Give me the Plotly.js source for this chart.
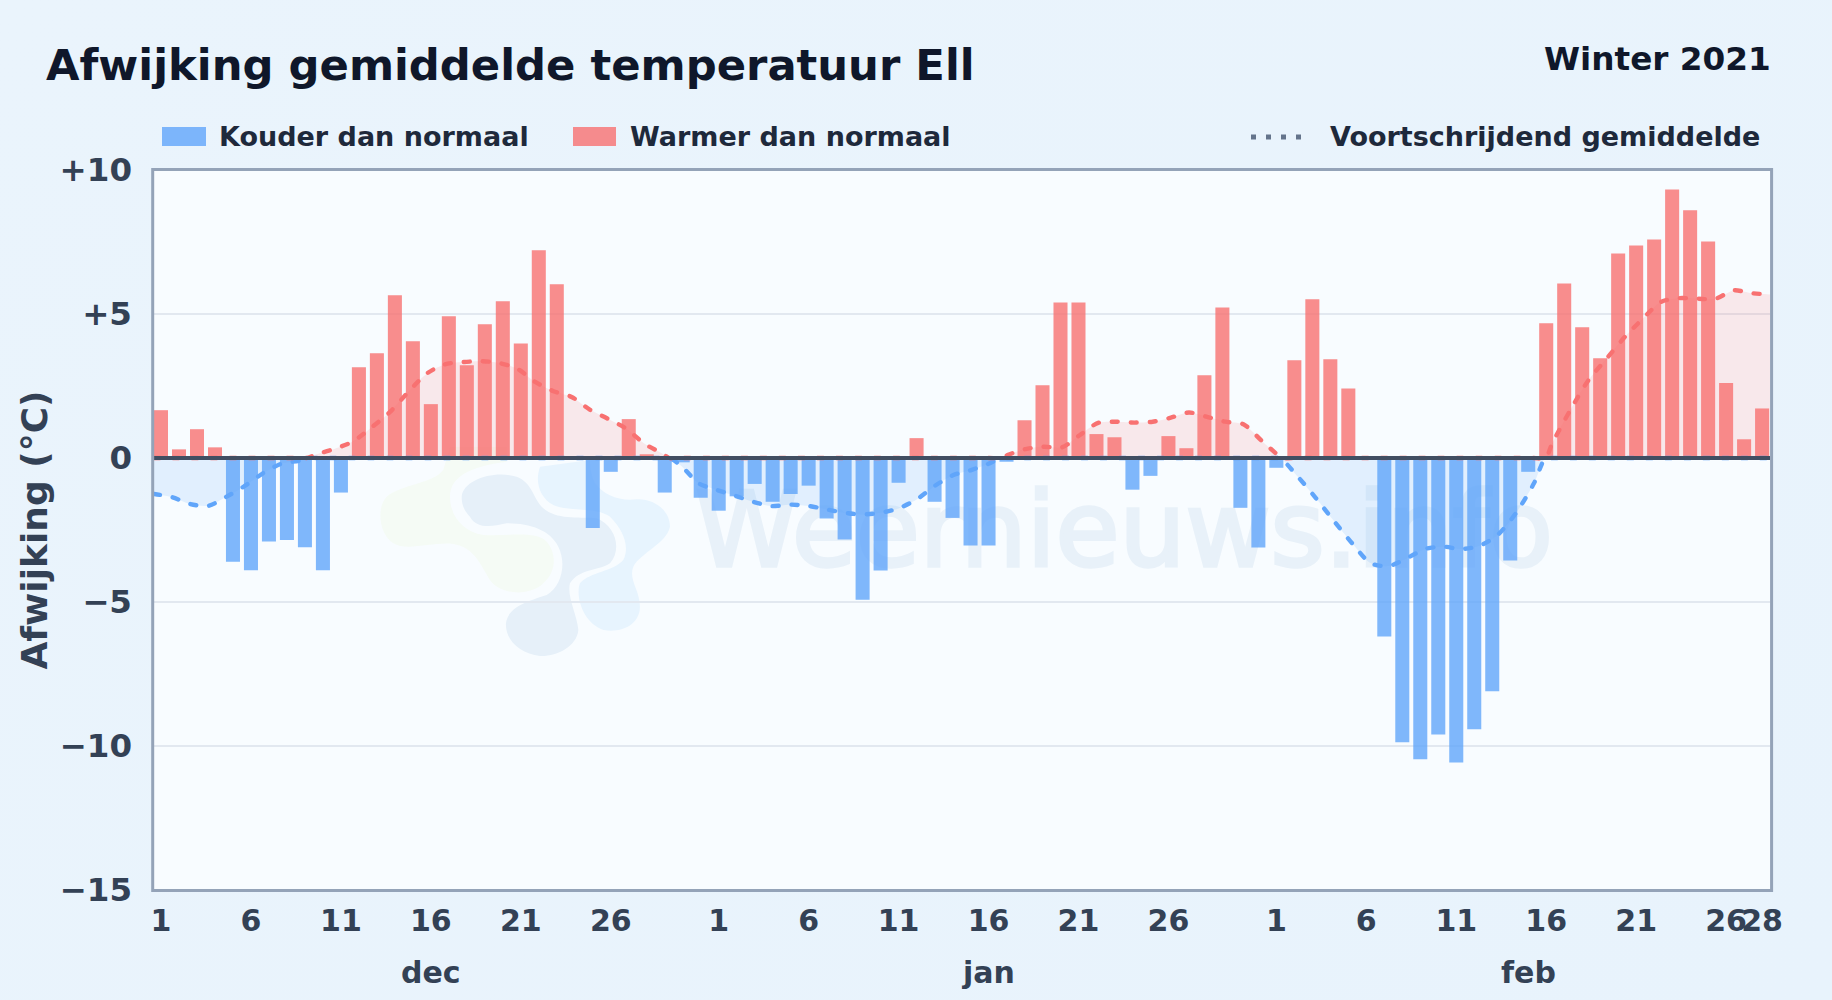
<!DOCTYPE html>
<html>
<head>
<meta charset="utf-8">
<script src="https://cdn.plot.ly/plotly-3.0.1.min.js"></script>
<style>
html,body{margin:0;padding:0;width:1832px;height:1000px;overflow:hidden;background:linear-gradient(135deg,#eaf4fc 0%,#e8f3fc 100%);}
#chart{width:1832px;height:1000px;}
</style>
</head>
<body>
<div id="chart"></div>
<script>
const dec = [1.66,0.3,1.0,0.37,-3.6,-3.9,-2.9,-2.85,-3.1,-3.9,-1.2,3.15,3.64,5.65,4.05,1.87,4.92,3.22,4.64,5.44,3.98,7.21,6.03,0,-2.43,-0.48,1.35,0.13,-1.2,-0.15,-1.38];
const jan = [-1.83,-1.33,-0.9,-1.52,-1.25,-0.96,-2.1,-2.83,-4.92,-3.91,-0.86,0.69,-1.52,-2.08,-3.04,-3.04,-0.13,1.31,2.53,5.4,5.4,0.83,0.72,-1.1,-0.62,0.76,0.34,2.87,5.23,-1.73,-3.11];
const feb = [-0.34,3.39,5.51,3.43,2.41,0,-6.2,-9.87,-10.46,-9.6,-10.57,-9.42,-8.1,-3.56,-0.48,4.68,6.06,4.54,3.46,7.1,7.38,7.59,9.32,8.6,7.52,2.6,0.65,1.72];
const smooth = [-1.25,-1.36,-1.6,-1.66,-1.34,-0.97,-0.53,-0.2,-0.09,0.14,0.33,0.59,1.07,1.6,2.29,2.92,3.25,3.33,3.36,3.3,3.1,2.64,2.32,2.12,1.68,1.36,1.02,0.5,0.15,-0.25,-0.88,-1.11,-1.31,-1.52,-1.67,-1.62,-1.66,-1.78,-1.9,-1.96,-1.9,-1.75,-1.44,-0.97,-0.6,-0.42,-0.19,0.1,0.31,0.39,0.37,0.8,1.22,1.26,1.23,1.26,1.4,1.58,1.43,1.26,1.17,0.6,0.04,-0.65,-1.4,-2.2,-2.97,-3.65,-3.75,-3.48,-3.16,-3.08,-3.16,-3.05,-2.67,-1.92,-0.88,0.5,1.66,2.7,3.45,4.2,4.84,5.42,5.55,5.53,5.53,5.82,5.72,5.68];
const dayLabels = ["1","6","11","16","21","26","1","6","11","16","21","26","1","6","11","16","21","26","28"];
const dayTicks = [0,5,10,15,20,25,31,36,41,46,51,56,62,67,72,77,82,87,89];
const monthNames = ["dec","jan","feb"];
const monthAt = [15,46,76];
const yTicks = [10,5,0,-5,-10,-15];
const yLabels = ["+10","+5","0","\u22125","\u221210","\u221215"];

const W=1832,H=1000,L=154,R=1770,T=170,B=890;
const BLUE='#60a5fa',RED='#f87171',FONT='"DejaVu Sans",sans-serif',MARK='#e8f1f9';
const values=[...dec,...jan,...feb];
const idx=values.map((_,i)=>i);
const fx=x=>(x-L)/(R-L), fy=y=>(B-y)/(B-T);

// splits the running mean at zero so each side has its own colour and fill
function side(sign){
  const xs=[],ys=[];
  smooth.forEach((v,i)=>{
    if(i>0 && smooth[i-1]*v<0){xs.push(i-1+smooth[i-1]/(smooth[i-1]-v));ys.push(0);}
    xs.push(i);ys.push(sign*v>0?v:0);
  });
  return {xs,ys};
}
const pos=side(1),neg=side(-1);

const px=(x,y)=>fx(350+x/3).toFixed(4)+','+fy(440+y/3).toFixed(4);
function blob(d,fill){
  const path=d.replace(/(-?\d+),(-?\d+)/g,(m,a,b)=>px(+a,+b));
  return {type:'path',xref:'paper',yref:'paper',layer:'below',path,fillcolor:fill,line:{width:0}};
}
const shapes=[
  blob('M 280,90 C 250,130 150,135 110,170 C 80,200 85,280 130,310 C 170,335 250,305 310,312 C 370,320 390,370 420,420 C 450,465 540,470 580,430 C 620,395 620,340 590,305 C 555,270 470,290 400,285 C 340,275 300,230 300,170 C 300,110 360,80 470,65 L 470,20 L 300,20 Z','#f5fbf5'),
  blob('M 335,170 C 340,120 430,90 500,110 C 550,130 545,170 580,205 C 620,240 680,230 740,235 C 800,260 815,330 780,370 C 740,395 690,385 660,430 C 650,470 680,520 685,570 C 680,620 620,650 570,648 C 510,640 465,600 468,550 C 475,500 530,485 590,465 C 635,440 650,370 625,320 C 600,270 540,250 470,250 C 420,262 380,265 360,230 C 340,210 335,190 335,170 Z','#e6f0f9'),
  blob('M 570,80 C 555,120 565,170 610,195 C 650,215 740,200 780,230 C 820,270 840,320 820,360 C 790,395 720,395 690,430 C 675,470 700,550 760,570 C 820,580 870,550 870,500 C 870,450 835,420 850,380 C 870,340 950,310 960,260 C 960,210 910,175 860,178 C 810,185 760,165 735,130 C 720,100 720,70 720,60 Z','#e7f4fe'),
  {type:'rect',xref:'paper',yref:'paper',layer:'below',x0:fx(702),x1:fx(1546),y0:fy(583),y1:fy(463),line:{width:0},fillcolor:'rgba(0,0,0,0)',
   label:{text:'Weernieuws.info',textposition:'middle center',font:{family:FONT,size:104,color:MARK}}},
  {type:'line',xref:'paper',yref:'y',layer:'above',x0:0,x1:1,y0:0,y1:0,line:{color:'#414e62',width:4}},
  {type:'rect',xref:'paper',yref:'paper',layer:'above',x0:fx(152.7),x1:fx(1771.6),y0:fy(890.6),y1:fy(169.4),fillcolor:'rgba(0,0,0,0)',line:{color:'#94a3b8',width:3}},
  {type:'rect',xref:'paper',yref:'paper',x0:fx(162),x1:fx(206),y0:fy(146),y1:fy(127),fillcolor:BLUE,opacity:0.8,line:{width:0}},
  {type:'rect',xref:'paper',yref:'paper',x0:fx(573),x1:fx(616),y0:fy(146),y1:fy(127),fillcolor:RED,opacity:0.8,line:{width:0}},
  {type:'line',xref:'paper',yref:'paper',x0:fx(1251),x1:fx(1310),y0:fy(137),y1:fy(137),line:{color:'#64748b',width:5,dash:'5px,10px'}}
];
const note=(text,x,y,size,color,anchor)=>({text,x,y,xref:'paper',yref:'paper',xanchor:anchor||'left',yanchor:'middle',showarrow:false,font:{family:FONT,size,color,weight:700}});
const annotations=[
  note('Winter 2021',fx(1773),fy(59),32.7,'#0f172a','right'),
  note('Kouder dan normaal',fx(217),fy(137),27,'#1e293b'),
  note('Warmer dan normaal',fx(628),fy(137),27,'#1e293b'),
  note('Voortschrijdend gemiddelde',fx(1327.5),fy(137),27,'#1e293b')
];
monthNames.forEach((m,i)=>annotations.push({text:m,x:monthAt[i],y:fy(972),xref:'x',yref:'paper',xanchor:'center',yanchor:'middle',showarrow:false,font:{family:FONT,size:30,color:'#334155',weight:700}}));

const traces=[
  {type:'bar',name:'Kouder dan normaal',x:idx,y:values.map(v=>v<0?v:null),width:0.78,marker:{color:BLUE,opacity:0.8,line:{width:0}},xaxis:'x',yaxis:'y'},
  {type:'bar',name:'Warmer dan normaal',x:idx,y:values.map(v=>v>=0?v:null),width:0.78,marker:{color:RED,opacity:0.8,line:{width:0}},xaxis:'x',yaxis:'y'},
  {type:'scatter',mode:'lines',name:'Voortschrijdend gemiddelde',x:neg.xs,y:neg.ys,xaxis:'x2',yaxis:'y',fill:'tozeroy',fillcolor:'rgba(96,165,250,0.15)',opacity:0.92,line:{color:BLUE,width:4.4,dash:'6px,13px',shape:'spline',smoothing:0.8}},
  {type:'scatter',mode:'lines',name:'Voortschrijdend gemiddelde +',x:pos.xs,y:pos.ys,xaxis:'x2',yaxis:'y',fill:'tozeroy',fillcolor:'rgba(248,113,113,0.14)',opacity:0.92,line:{color:RED,width:4.4,dash:'6px,13px',shape:'spline',smoothing:0.8}}
];
const layout={
  width:W,height:H,paper_bgcolor:'rgba(0,0,0,0)',plot_bgcolor:'#f8fcff',showlegend:false,barmode:'overlay',
  margin:{l:L,r:W-R,t:T,b:H-B,pad:0},
  title:{text:'Afwijking gemiddelde temperatuur Ell',x:46/W,xanchor:'left',xref:'container',y:1-65/H,yref:'container',yanchor:'middle',font:{family:FONT,size:43.3,color:'#0f172a',weight:700}},
  xaxis:{type:'linear',range:[-0.39,89.44],tickmode:'array',tickvals:dayTicks,ticktext:dayLabels,tickangle:0,tickfont:{family:FONT,size:30,color:'#334155',weight:700},showgrid:false,zeroline:false,showline:false,ticks:'',ticklabelstandoff:10,fixedrange:true},
  xaxis2:{type:'linear',overlaying:'x',range:[0,89],visible:false},
  yaxis:{range:[-15,10],tickmode:'array',tickvals:yTicks,ticktext:yLabels,tickfont:{family:FONT,size:32.5,color:'#334155',weight:700},showgrid:true,gridcolor:'#e2e8f0',gridwidth:2,zeroline:false,showline:false,ticks:'',ticklabelstandoff:21,
    title:{text:'Afwijking (\u00b0C)',font:{family:FONT,size:36,color:'#334155',weight:700},standoff:0}},
  shapes,annotations
};
Plotly.newPlot('chart',traces,layout,{displayModeBar:false,staticPlot:true}).then(()=>{
  document.querySelectorAll('.scatterlayer .js-line').forEach(p=>{p.style.strokeLinecap='round';});
  document.querySelectorAll('.shapelayer text').forEach(t=>{
    if(t.textContent==='Weernieuws.info'){t.style.stroke=MARK;t.style.strokeWidth='3.5px';}
  });
});
</script>
</body>
</html>
